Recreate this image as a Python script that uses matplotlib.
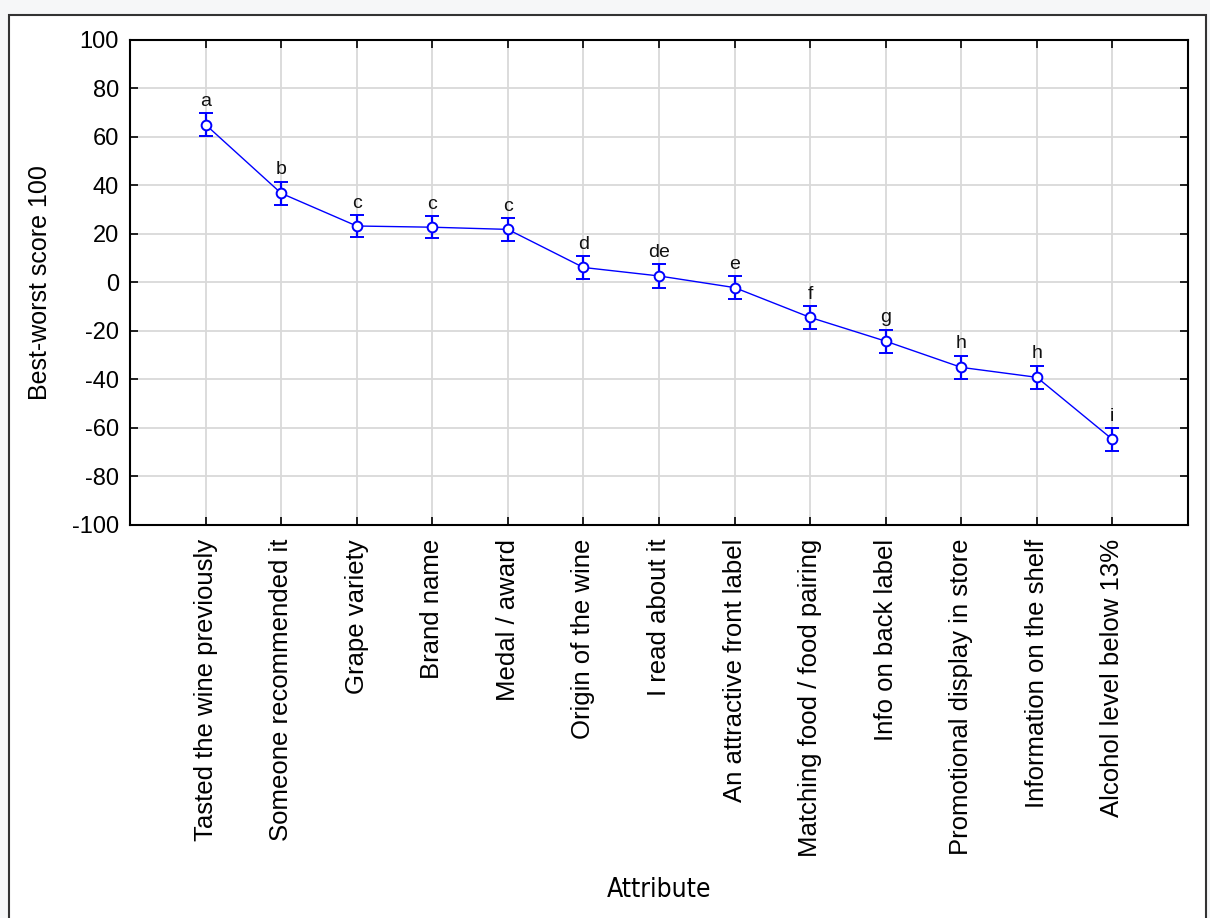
import matplotlib.pyplot as plt
from matplotlib.patches import Rectangle

# Best-worst scores per attribute, with error half-widths and group letters
attributes = ['Tasted the wine previously', 'Someone recommended it', 'Grape variety',
              'Brand name', 'Medal / award', 'Origin of the wine', 'I read about it',
              'An attractive front label', 'Matching food / food pairing',
              'Info on back label', 'Promotional display in store',
              'Information on the shelf', 'Alcohol level below 13%']
scores = [65.1, 36.8, 23.3, 22.8, 21.9, 6.2, 2.7, -2.1, -14.4, -24.2, -35.0, -39.1, -64.7]
errors = [4.8, 4.8, 4.5, 4.6, 4.6, 4.6, 4.8, 4.7, 4.7, 4.8, 4.8, 4.8, 4.7]
letters = ['a', 'b', 'c', 'c', 'c', 'd', 'de', 'e', 'f', 'g', 'h', 'h', 'i']
y_ticks = [-100, -80, -60, -40, -20, 0, 20, 40, 60, 80, 100]

plt.rcParams['font.family'] = ['Liberation Sans', 'DejaVu Sans']

fig = plt.figure(figsize=(12.1, 9.18), dpi=100, facecolor='#f6f7f8')
# white panel with dark border, like the screenshot window
fig.patches.append(Rectangle((9 / 1210, -0.01), 1197 / 1210, 1 - 15 / 918 + 0.01,
                             transform=fig.transFigure, facecolor='white',
                             edgecolor='#333333', linewidth=1.5, zorder=-5))

ax = fig.add_axes([130 / 1210, 1 - 525 / 918, 1058 / 1210, 485 / 918])
x = list(range(1, len(scores) + 1))

ax.errorbar(x, scores, yerr=errors, color='#0000ff', linewidth=1.0,
            elinewidth=1.6, capsize=5, capthick=1.6, marker='o', markersize=7,
            markerfacecolor='white', markeredgecolor='#0000ff', markeredgewidth=1.4,
            zorder=3)

for xi, s, e, lab in zip(x, scores, errors, letters):
    ax.annotate(lab, (xi, s + e), xytext=(0, 2.5), textcoords='offset points',
                ha='center', va='bottom', fontsize=14, color='#111111')

ax.set_xlim(0, 14)
ax.set_ylim(-100, 100)
ax.set_xticks(x)
ax.set_xticklabels(attributes, rotation=90, fontsize=18.5, va='top')
ax.set_yticks(y_ticks)
ax.set_yticklabels([str(v) for v in y_ticks], fontsize=17)
ax.tick_params(direction='in', length=6, width=1.2, top=True, right=True,
               colors='black')
ax.tick_params(axis='x', pad=10)
ax.tick_params(axis='y', pad=8)
ax.grid(True, color='#d9d9d9', linewidth=1.3, zorder=0)
ax.set_axisbelow(True)
for sp in ax.spines.values():
    sp.set_linewidth(1.5)

ax.set_ylabel('Best-worst score 100', fontsize=18)
ax.yaxis.set_label_coords(-0.074, 0.5)
fig.text(659 / 1210, 1 - 890 / 918, 'Attribute', ha='center', va='center',
         fontsize=19, family='DejaVu Sans', fontstretch='condensed')

fig.savefig('out.png', dpi=100, facecolor=fig.get_facecolor())
